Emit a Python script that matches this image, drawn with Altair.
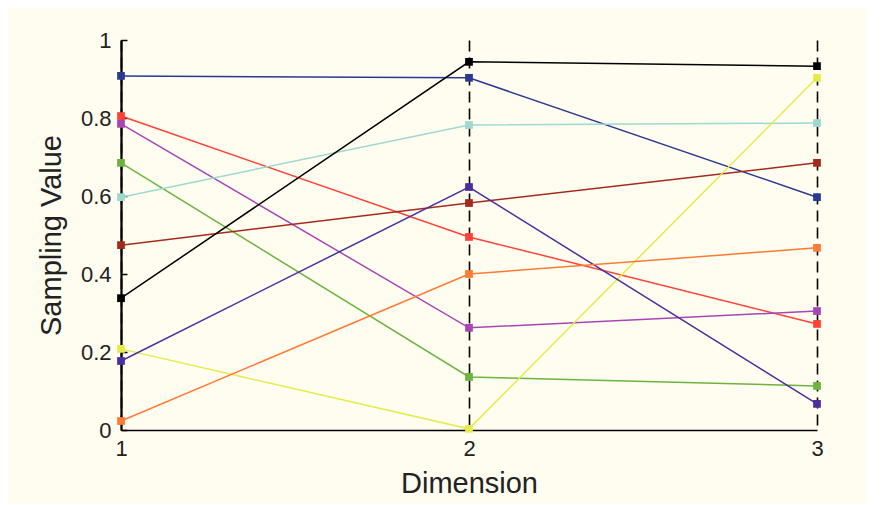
import altair as alt
import pandas as pd

dims = [1, 2, 3]
series_names = ["s1", "s2", "s3", "s4", "s5", "s6", "s7", "s8", "s9", "s10"]
series_colors = ["#2B3990", "#FF4136", "#A845B5", "#6DB33F", "#9ED8CF",
                 "#A52A1E", "#000000", "#E6EB4B", "#4B2F9E", "#FF7A33"]
s1 = [0.908, 0.903, 0.597]
s2 = [0.805, 0.495, 0.272]
s3 = [0.785, 0.262, 0.305]
s4 = [0.685, 0.136, 0.113]
s5 = [0.597, 0.782, 0.787]
s6 = [0.474, 0.582, 0.685]
s7 = [0.338, 0.944, 0.933]
s8 = [0.208, 0.003, 0.903]
s9 = [0.177, 0.623, 0.067]
s10 = [0.023, 0.400, 0.467]
all_series = [s1, s2, s3, s4, s5, s6, s7, s8, s9, s10]

y_ticks = [0, 0.2, 0.4, 0.6, 0.8, 1]

rows = []
for name, vals in zip(series_names, all_series):
    for d, v in zip(dims, vals):
        rows.append({"series": name, "dim": d, "value": v})
df = pd.DataFrame(rows)

FONT = "Liberation Sans"
W, H = 696, 390

xscale = alt.Scale(type="point", domain=dims, padding=0)
xaxis = alt.Axis(title="Dimension", labelAngle=0,
                 grid=True, gridColor="#000000", gridDash=[11, 6],
                 gridWidth=1.6, gridOpacity=1, labelOverlap=False,
                 ticks=False, domainColor="#000000", domainWidth=1.5,
                 labelFontSize=22, labelFont=FONT, labelColor="#222222",
                 labelPadding=8, titleFontSize=29, titleFont=FONT,
                 titleFontWeight="normal", titleColor="#222222",
                 titlePadding=10)
col = alt.Color("series:N", scale=alt.Scale(domain=series_names, range=series_colors),
                legend=None)

lines = alt.Chart(df).mark_line(strokeWidth=1.5).encode(
    x=alt.X("dim:O", scale=xscale, axis=xaxis),
    y=alt.Y("value:Q", scale=alt.Scale(domain=[0, 1], nice=False),
            axis=alt.Axis(values=y_ticks, format="~g", title="Sampling Value",
                          grid=False, ticks=False, domainColor="#000000",
                          domainWidth=1.8, labelFontSize=22, labelFont=FONT,
                          labelColor="#222222", labelPadding=10,
                          titleFontSize=29, titleFont=FONT,
                          titleFontWeight="normal", titleColor="#222222",
                          titlePadding=14, zindex=0)),
    color=col,
    detail="series:N",
    order="dim:Q",
)

points = alt.Chart(df).mark_point(shape="square", filled=True, size=60, opacity=1).encode(
    x=alt.X("dim:O", scale=xscale, axis=xaxis),
    y=alt.Y("value:Q",
            axis=alt.Axis(orient="right", offset=-W, values=y_ticks, labels=False,
                          domain=True, domainColor="#000000", domainWidth=1.8,
                          grid=False, ticks=True, tickSize=6,
                          tickColor="#000000", tickWidth=1.5, title=None,
                          zindex=0)),
    color=col,
)

chart = alt.layer(lines, points).resolve_axis(y="independent").properties(
    width=W, height=H,
    background="#FFFDF0",
    padding={"left": 113, "top": 32, "right": 50, "bottom": 74},
    autosize=alt.AutoSizeParams(type="none"),
).configure_view(stroke=None)

chart.save("out.html", embed_options={"renderer": "svg", "actions": False})
